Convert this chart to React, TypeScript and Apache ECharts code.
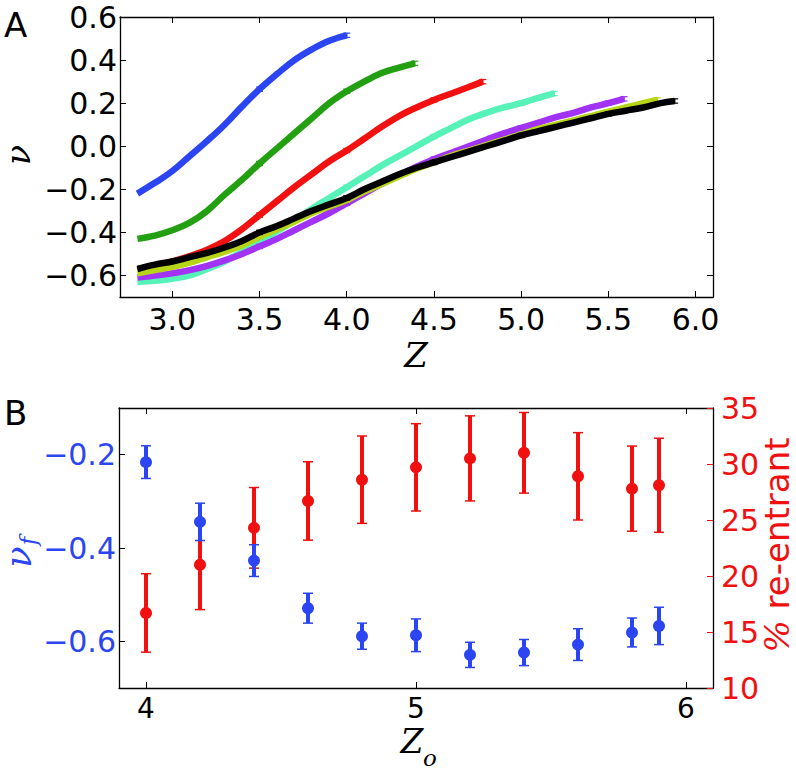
import React, { useEffect, useRef } from 'react';
import * as echarts from 'echarts';

// ---------- Panel A: nu vs Z curves ----------
const zBlue = [2.8, 2.9, 3.0, 3.1, 3.2, 3.3, 3.4, 3.5, 3.6, 3.7, 3.8, 3.9, 4.0];
const nuBlue = [-0.22, -0.17, -0.115, -0.045, 0.025, 0.10, 0.185, 0.265, 0.335, 0.40, 0.45, 0.49, 0.515];

const zGreen = [2.8, 2.9, 3.0, 3.1, 3.2, 3.3, 3.4, 3.5, 3.6, 3.7, 3.8, 3.9, 4.0, 4.1, 4.2, 4.3, 4.39];
const nuGreen = [-0.43, -0.415, -0.39, -0.355, -0.30, -0.225, -0.155, -0.08, -0.01, 0.06, 0.13, 0.20, 0.255, 0.30, 0.34, 0.365, 0.385];

const zRed = [2.8, 2.9, 3.0, 3.1, 3.2, 3.3, 3.4, 3.5, 3.6, 3.7, 3.8, 3.9, 4.0, 4.1, 4.2, 4.3, 4.4, 4.5, 4.6, 4.7, 4.78];
const nuRed = [-0.575, -0.555, -0.535, -0.51, -0.48, -0.44, -0.385, -0.32, -0.255, -0.19, -0.13, -0.07, -0.02, 0.035, 0.09, 0.14, 0.18, 0.215, 0.245, 0.275, 0.30];

const zCyan = [2.8, 2.9, 3.0, 3.1, 3.2, 3.3, 3.4, 3.5, 3.6, 3.7, 3.8, 3.9, 4.0, 4.1, 4.2, 4.3, 4.4, 4.5, 4.6, 4.7, 4.8, 4.9, 5.0, 5.1, 5.19];
const nuCyan = [-0.63, -0.625, -0.615, -0.60, -0.57, -0.535, -0.49, -0.445, -0.395, -0.345, -0.29, -0.24, -0.19, -0.14, -0.09, -0.045, 0.0, 0.045, 0.085, 0.125, 0.155, 0.18, 0.20, 0.225, 0.245];

const zPurple = [2.8, 2.9, 3.0, 3.1, 3.2, 3.3, 3.4, 3.5, 3.6, 3.7, 3.8, 3.9, 4.0, 4.1, 4.2, 4.3, 4.4, 4.5, 4.6, 4.7, 4.8, 4.9, 5.0, 5.1, 5.2, 5.3, 5.4, 5.5, 5.59];
const nuPurple = [-0.61, -0.60, -0.59, -0.575, -0.555, -0.53, -0.50, -0.465, -0.43, -0.39, -0.35, -0.31, -0.265, -0.22, -0.175, -0.135, -0.095, -0.06, -0.03, 0.0, 0.03, 0.06, 0.085, 0.11, 0.135, 0.155, 0.18, 0.20, 0.22];

const zYellow = [2.8, 2.9, 3.0, 3.1, 3.2, 3.3, 3.4, 3.5, 3.6, 3.7, 3.8, 3.9, 4.0, 4.1, 4.2, 4.3, 4.4, 4.5, 4.6, 4.7, 4.8, 4.9, 5.0, 5.1, 5.2, 5.3, 5.4, 5.5, 5.6, 5.7, 5.78];
const nuYellow = [-0.59, -0.575, -0.56, -0.54, -0.515, -0.49, -0.46, -0.42, -0.385, -0.35, -0.31, -0.28, -0.25, -0.21, -0.175, -0.14, -0.105, -0.075, -0.045, -0.02, 0.005, 0.03, 0.055, 0.08, 0.10, 0.12, 0.14, 0.16, 0.18, 0.20, 0.215];

const zBlack = [2.8, 2.9, 3.0, 3.1, 3.2, 3.3, 3.4, 3.5, 3.6, 3.7, 3.8, 3.9, 4.0, 4.1, 4.2, 4.3, 4.4, 4.5, 4.6, 4.7, 4.8, 4.9, 5.0, 5.1, 5.2, 5.3, 5.4, 5.5, 5.6, 5.7, 5.8, 5.88];
const nuBlack = [-0.57, -0.55, -0.535, -0.515, -0.495, -0.47, -0.44, -0.40, -0.37, -0.335, -0.30, -0.27, -0.24, -0.20, -0.165, -0.13, -0.10, -0.075, -0.05, -0.025, 0.0, 0.025, 0.05, 0.07, 0.09, 0.11, 0.13, 0.15, 0.165, 0.18, 0.20, 0.21];

const curveColors = ['#2b45f2', '#22a012', '#f21010', '#57f2b8', '#a232f5', '#b8d416', '#000000'];

// small error bars drawn along the curves
const errZA = [3.5, 4.0, 4.5, 5.0, 5.5];
const errHalfA = 0.01;

const xTicksA = [3.0, 3.5, 4.0, 4.5, 5.0, 5.5, 6.0];
const yTicksA = [-0.6, -0.4, -0.2, 0.0, 0.2, 0.4, 0.6];

// ---------- Panel B ----------
const zo = [4.0, 4.2, 4.4, 4.6, 4.8, 5.0, 5.2, 5.4, 5.6, 5.8, 5.9];
const nuF = [-0.216, -0.344, -0.427, -0.529, -0.589, -0.587, -0.629, -0.624, -0.607, -0.581, -0.567];
const nuFErr = [0.035, 0.040, 0.034, 0.032, 0.028, 0.035, 0.027, 0.028, 0.034, 0.031, 0.040];
const reEntrant = [16.7, 21.0, 24.3, 26.7, 28.6, 29.7, 30.5, 31.0, 28.9, 27.8, 28.1];
const reEntrantErr = [3.5, 4.0, 3.6, 3.5, 3.9, 3.9, 3.8, 3.6, 3.9, 3.8, 4.2];

const xTicksB = [4, 5, 6];
const yTicksBLeft = [-0.6, -0.4, -0.2];
const yTicksBRight = [10, 15, 20, 25, 30, 35];

const BLUE = '#2b45f2';
const RED = '#f01010';
const FONT = "'DejaVu Sans', sans-serif";
const SERIF = "'DejaVu Serif', serif";
const TICK_FS = 30;

const minus = (s: string) => s.replace('-', '\u2212');

function errRender(color: string, barW: number, capW: number, capHalf: number) {
  return (params: any, api: any) => {
    const x = api.value(0);
    const lo = api.value(1);
    const hi = api.value(2);
    const a = api.coord([x, lo]);
    const b = api.coord([x, hi]);
    return {
      type: 'group',
      children: [
        { type: 'line', shape: { x1: a[0], y1: a[1], x2: b[0], y2: b[1] }, style: { stroke: color, lineWidth: barW } },
        { type: 'line', shape: { x1: a[0] - capHalf, y1: a[1], x2: a[0] + capHalf, y2: a[1] }, style: { stroke: color, lineWidth: capW } },
        { type: 'line', shape: { x1: b[0] - capHalf, y1: b[1], x2: b[0] + capHalf, y2: b[1] }, style: { stroke: color, lineWidth: capW } },
      ],
    };
  };
}

function frameAxis(base: any, ticks: number[], showLabel: boolean, labelOpts: any, tickColor = '#000') {
  return {
    type: 'value',
    ...base,
    axisLine: { show: true, onZero: false, lineStyle: { color: '#000', width: 1.3 } },
    axisTick: { show: true, inside: true, length: 6, customValues: ticks, lineStyle: { color: tickColor, width: 1 } },
    axisLabel: showLabel
      ? { show: true, customValues: ticks, fontFamily: FONT, fontSize: TICK_FS, ...labelOpts }
      : { show: false },
    splitLine: { show: false },
  };
}

export default function App() {
  const ref = useRef<HTMLDivElement>(null);

  useEffect(() => {
    if (!ref.current) return;
    const chart = echarts.init(ref.current, undefined, { renderer: 'svg' });

    const curves = [
      { z: zBlue, nu: nuBlue },
      { z: zGreen, nu: nuGreen },
      { z: zRed, nu: nuRed },
      { z: zCyan, nu: nuCyan },
      { z: zPurple, nu: nuPurple },
      { z: zYellow, nu: nuYellow },
      { z: zBlack, nu: nuBlack },
    ];

    const series: any[] = [];
    curves.forEach((c, i) => {
      series.push({
        type: 'line',
        xAxisIndex: 0,
        yAxisIndex: 0,
        data: c.z.map((z, k) => [z, c.nu[k]]),
        showSymbol: false,
        smooth: 0.4,
        lineStyle: { color: curveColors[i], width: 6.5, cap: 'butt', join: 'round' },
        itemStyle: { color: curveColors[i] },
        z: 2 + i,
      });
      const errData: number[][] = [];
      c.z.forEach((z, k) => {
        const isErr = errZA.some((e) => Math.abs(e - z) < 1e-9) || k === c.z.length - 1;
        if (isErr) errData.push([z, c.nu[k] - errHalfA, c.nu[k] + errHalfA]);
      });
      series.push({
        type: 'custom',
        xAxisIndex: 0,
        yAxisIndex: 0,
        data: errData,
        encode: { x: 0, y: [1, 2] },
        renderItem: errRender(curveColors[i], 1.5, 1.2, 3.5),
        z: 2 + i,
      });
    });

    // Panel B: red (right axis) first, blue on top
    series.push({
      type: 'custom',
      xAxisIndex: 2,
      yAxisIndex: 3,
      data: zo.map((z, k) => [z, reEntrant[k] - reEntrantErr[k], reEntrant[k] + reEntrantErr[k]]),
      encode: { x: 0, y: [1, 2] },
      renderItem: errRender(RED, 4, 1.5, 5),
      z: 3,
    });
    series.push({
      type: 'scatter',
      xAxisIndex: 2,
      yAxisIndex: 3,
      data: zo.map((z, k) => [z, reEntrant[k]]),
      symbolSize: 12,
      itemStyle: { color: RED, opacity: 1 },
      z: 4,
    });
    series.push({
      type: 'custom',
      xAxisIndex: 2,
      yAxisIndex: 2,
      data: zo.map((z, k) => [z, nuF[k] - nuFErr[k], nuF[k] + nuFErr[k]]),
      encode: { x: 0, y: [1, 2] },
      renderItem: errRender(BLUE, 4, 1.5, 5),
      z: 5,
    });
    series.push({
      type: 'scatter',
      xAxisIndex: 2,
      yAxisIndex: 2,
      data: zo.map((z, k) => [z, nuF[k]]),
      symbolSize: 12,
      itemStyle: { color: BLUE, opacity: 1 },
      z: 6,
    });

    const option: any = {
      animation: false,
      backgroundColor: '#ffffff',
      grid: [
        { left: 120, top: 17, width: 593, height: 280 },
        { left: 119, top: 408, width: 594, height: 280 },
      ],
      xAxis: [
        frameAxis({ gridIndex: 0, min: 2.7, max: 6.1, position: 'bottom' }, xTicksA, true, {
          color: '#000', margin: 7, formatter: (v: number) => v.toFixed(1),
        }),
        frameAxis({ gridIndex: 0, min: 2.7, max: 6.1, position: 'top' }, xTicksA, false, {}),
        frameAxis({ gridIndex: 1, min: 3.9, max: 6.1, position: 'bottom' }, xTicksB, true, {
          color: '#000', margin: 9, fontSize: 28, lineHeight: 22, formatter: (v: number) => String(Math.round(v)),
        }),
        frameAxis({ gridIndex: 1, min: 3.9, max: 6.1, position: 'top' }, xTicksB, false, {}),
      ],
      yAxis: [
        frameAxis({ gridIndex: 0, min: -0.7, max: 0.6, position: 'left' }, yTicksA, true, {
          color: '#000', margin: 3, lineHeight: 26, formatter: (v: number) => minus(v.toFixed(1)),
        }),
        frameAxis({ gridIndex: 0, min: -0.7, max: 0.6, position: 'right' }, yTicksA, false, {}),
        frameAxis({ gridIndex: 1, min: -0.7, max: -0.1, position: 'left' }, yTicksBLeft, true, {
          color: BLUE, margin: 3, formatter: (v: number) => minus(v.toFixed(1)),
        }),
        frameAxis({ gridIndex: 1, min: 10, max: 35, position: 'right' }, yTicksBRight, true, {
          color: RED, margin: 8, formatter: (v: number) => String(Math.round(v)),
        }, RED),
      ],
      graphic: [
        { type: 'text', left: 4, top: 8, style: { text: 'A', font: `34px ${FONT}`, fill: '#000' } },
        { type: 'text', left: 4, top: 396, style: { text: 'B', font: `34px ${FONT}`, fill: '#000' } },
        {
          type: 'text', x: 18, y: 155, rotation: Math.PI / 2,
          style: { text: 'ν', font: `italic 33px ${SERIF}`, fill: '#000', align: 'center', verticalAlign: 'middle', lineHeight: 26 },
        },
        {
          type: 'text', x: 416, y: 355,
          style: { text: 'Z', font: `italic 34px ${SERIF}`, fill: '#000', align: 'center', verticalAlign: 'middle' },
        },
        {
          type: 'group', x: 19, y: 557, rotation: Math.PI / 2,
          children: [
            { type: 'text', x: 0, y: 0, style: { text: 'ν', font: `italic 35px ${SERIF}`, fill: BLUE, align: 'center', verticalAlign: 'middle', lineHeight: 26 } },
            { type: 'text', x: 16, y: 9, style: { text: 'f', font: `italic 23px ${SERIF}`, fill: BLUE, align: 'center', verticalAlign: 'middle', lineHeight: 20 } },
          ],
        },
        { type: 'text', x: 412, y: 741, style: { text: 'Z', font: `italic 33px ${SERIF}`, fill: '#000', align: 'center', verticalAlign: 'middle', lineHeight: 24 } },
        { type: 'text', x: 430, y: 758, style: { text: 'o', font: `italic 23px ${SERIF}`, fill: '#000', align: 'center', verticalAlign: 'middle', lineHeight: 18 } },
        {
          type: 'text', x: 777, y: 545, rotation: Math.PI / 2,
          style: {
            text: '{p|%} re-entrant',
            font: `34px ${FONT}`,
            fill: RED,
            align: 'center',
            verticalAlign: 'middle',
            rich: { p: { font: `italic 34px ${SERIF}`, fill: RED } },
          },
        },
      ],
      series,
    };

    chart.setOption(option);
    return () => chart.dispose();
  }, []);

  return <div ref={ref} style={{ position: 'fixed', left: 0, top: 0, width: 796, height: 770 }} />;
}
